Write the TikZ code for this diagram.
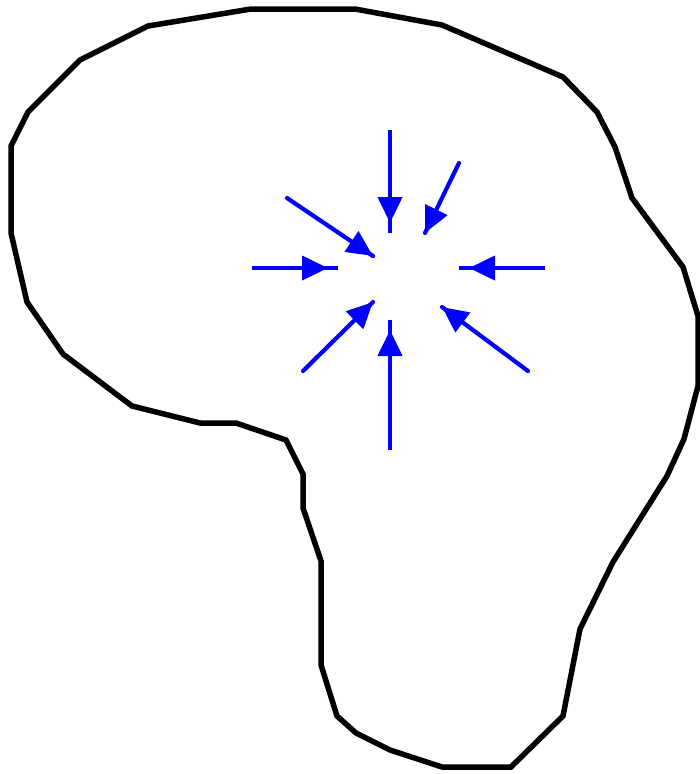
\documentclass[tikz,border=0pt]{standalone}
\usetikzlibrary{decorations.markings}
\definecolor{pureblue}{RGB}{0,0,255}
\tikzset{
  outline/.style={draw=black, line width=5.5pt, line join=miter},
  ray/.style={draw=pureblue, line width=4.2pt},
  diag/.style={ray, line cap=round},
  headat/.style={postaction={decorate}, decoration={markings,
     mark=at position #1 with {\fill[pureblue] (0,0) .. controls (-7pt,3pt) and (-16pt,8pt) .. (-26pt,12.5pt) -- (-26pt,-12.5pt) .. controls (-16pt,-8pt) and (-7pt,-3pt) .. (0,0) -- cycle;}}}
}
\begin{document}
\begin{tikzpicture}[x=1pt, y=-1pt]
\useasboundingbox (0,0) rectangle (700,774);
% outline
\draw[outline] (251,9) -- (355,9) -- (442,25) -- (563,77) -- (597,112) -- (615,147) -- (632,198) -- (683,267) -- (698,316) -- (698,386) -- (684,439) -- (667,476) -- (613,562) -- (580,629) -- (563,716) -- (511,767) -- (442,767) -- (390,750) -- (356,733) -- (337,716) -- (321,665) -- (321,613) -- (321,561) -- (303,508) -- (303,474) -- (286,440) -- (236,423) -- (200,423) -- (132,406) -- (63,354) -- (27,302) -- (11,233) -- (11,146) -- (28,112) -- (80,60) -- (148,26) -- cycle;
% arrow end points
\coordinate (tS) at (390,130);  \coordinate (tE) at (390,233);
\coordinate (urS) at (459,163); \coordinate (urE) at (425,233);
\coordinate (ulS) at (287,198); \coordinate (ulE) at (373,256);
\coordinate (lS) at (252,268);  \coordinate (lE) at (338,268);
\coordinate (rS) at (545,268);  \coordinate (rE) at (459,268);
\coordinate (llS) at (303,371); \coordinate (llE) at (373,302);
\coordinate (bS) at (390,450);  \coordinate (bE) at (390,320);
\coordinate (lrS) at (528,371); \coordinate (lrE) at (442,307);
% arrows
\draw[ray, headat=-10pt] (tS) -- (tE);
\draw[ray, headat=-10pt] (lS) -- (lE);
\draw[ray, headat=-10pt] (rS) -- (rE);
\draw[ray, headat=-10pt] (bS) -- (bE);
\draw[diag, headat=1] (urS) -- (urE);
\draw[diag, headat=1] (ulS) -- (ulE);
\draw[diag, headat=1] (llS) -- (llE);
\draw[diag, headat=1] (lrS) -- (lrE);
\end{tikzpicture}
\end{document}
